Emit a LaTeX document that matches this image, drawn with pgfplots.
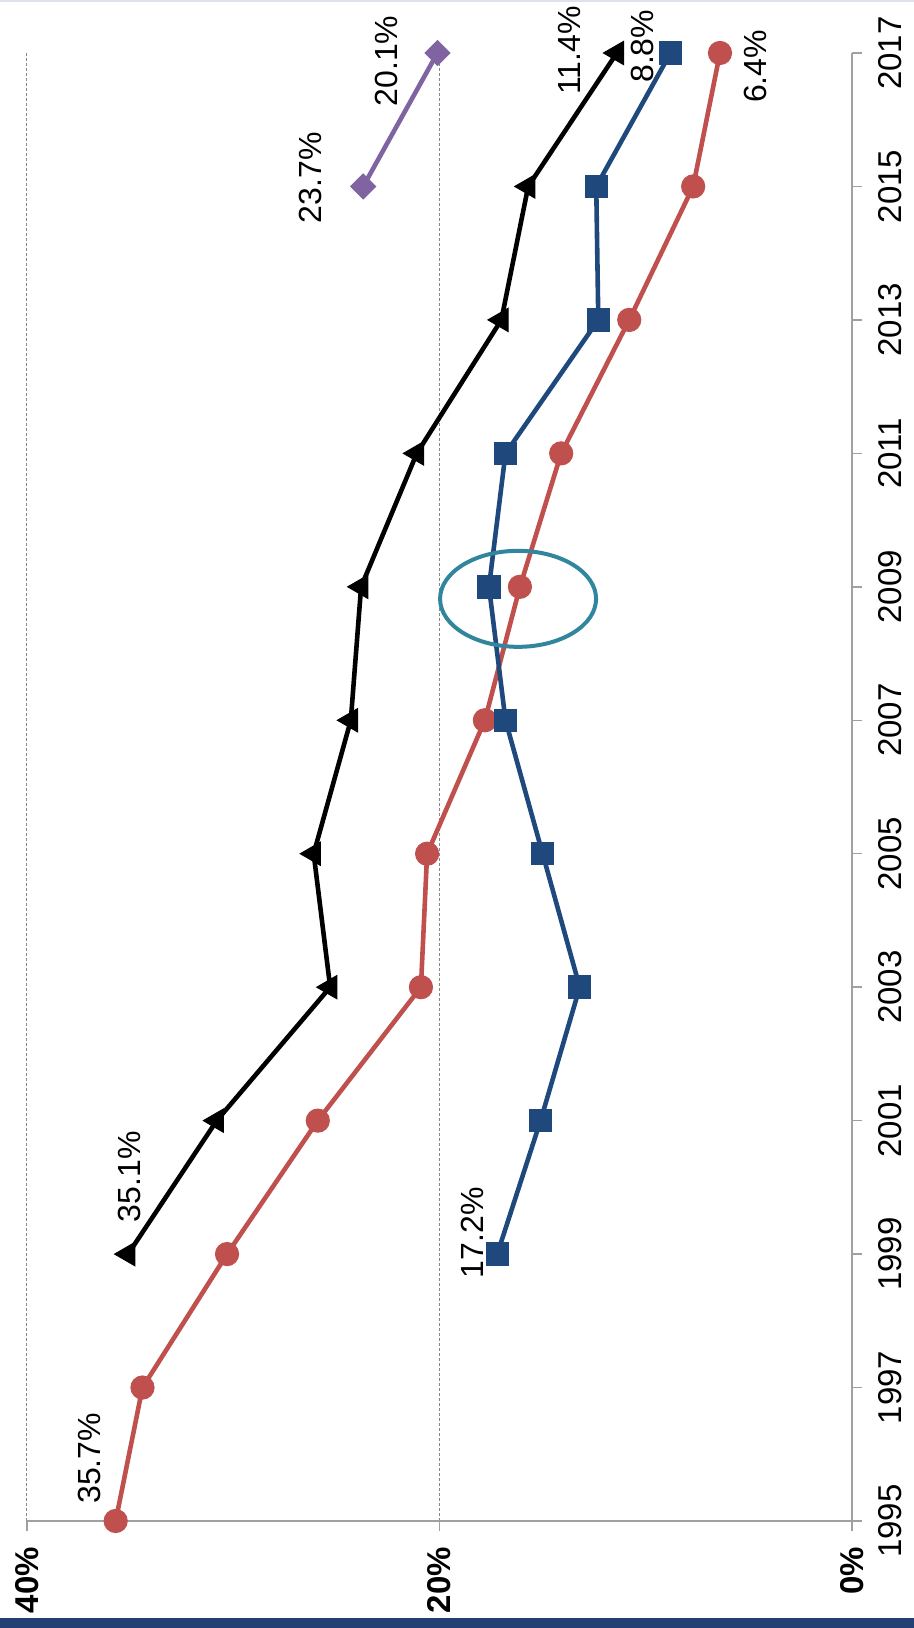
\documentclass[border=0pt]{standalone}
\usepackage{fontspec}
\setmainfont{Liberation Sans}
\usepackage{pgfplots}
\pgfplotsset{compat=1.18}
\definecolor{cred}{RGB}{192,80,77}
\definecolor{cblue}{RGB}{31,73,125}
\definecolor{cpurple}{RGB}{128,100,162}
\definecolor{cteal}{RGB}{49,133,156}
\definecolor{cgrid}{RGB}{134,134,134}
\definecolor{caxis}{RGB}{160,160,160}
\definecolor{cbar}{RGB}{35,64,115}
\begin{document}
\begin{tikzpicture}
\begin{axis}[
  scale only axis, width=412.5pt, height=734pt,
  xmin=0, xmax=40, x dir=reverse,
  ymin=1995, ymax=2017,
  enlargelimits=false, clip=false,
  axis x line*=bottom, axis y line*=right,
  axis line style={caxis, line width=0.7pt},
  xtick={0,20,40}, xticklabels={0\%,20\%,40\%},
  ytick={1995,1997,...,2017},
  yticklabels={1995,1997,1999,2001,2003,2005,2007,2009,2011,2013,2015,2017},
  tick align=outside, major tick length=5pt,
  tick style={caxis, line width=0.7pt},
  xmajorgrids, grid style={cgrid, line width=0.5pt, dash pattern=on 1.5pt off 1pt},
  xticklabel style={rotate=90, anchor=east, font=\bfseries\fontsize{16.5}{16.5}\selectfont},
  yticklabel style={rotate=90, anchor=north, font=\fontsize{16.5}{16.5}\selectfont},
  xticklabel shift=4.5pt, yticklabel shift=4.7pt,
  /pgf/number format/assume math mode=true,
  every axis plot/.append style={line width=2.3pt},
]
\addplot[cred, mark=*, mark size=5.8pt, mark options={solid, line width=0.5pt}] coordinates {
(35.7,1995) (34.4,1997) (30.3,1999) (25.9,2001) (20.9,2003) (20.6,2005)
(17.8,2007) (16.1,2009) (14.1,2011) (10.8,2013) (7.7,2015) (6.4,2017)};
\addplot[black, mark=triangle*, mark size=6.7pt, mark options={solid, rotate=90, line width=0.5pt}] coordinates {
(35.1,1999) (30.8,2001) (25.3,2003) (26.1,2005) (24.3,2007) (23.8,2009)
(21.1,2011) (17.0,2013) (15.7,2015) (11.4,2017)};
\addplot[cblue, mark=square*, mark size=5.6pt, mark options={solid, line width=0.5pt}] coordinates {
(17.2,1999) (15.1,2001) (13.2,2003) (15.0,2005) (16.8,2007) (17.6,2009)
(16.8,2011) (12.3,2013) (12.4,2015) (8.8,2017)};
\addplot[cpurple, mark=square*, mark size=4.4pt, mark options={solid, rotate=45, line width=0.5pt}] coordinates {
(23.7,2015) (20.1,2017)};
\draw[cteal, line width=2pt] (axis cs:16.19,2008.82) ellipse [x radius=39pt, y radius=24pt];
\begin{scope}[every node/.style={rotate=90, font=\fontsize{16}{16}\selectfont, inner sep=0pt}]
\node at (axis cs:36.97,1995.94) {35.7\%};
\node at (axis cs:35.03,2000.16) {35.1\%};
\node at (axis cs:18.4,1999.32) {17.2\%};
\node at (axis cs:26.25,2015.13) {23.7\%};
\node at (axis cs:22.59,2016.88) {20.1\%};
\node at (axis cs:13.72,2017.04) {11.4\%};
\node at (axis cs:10.18,2017.10) {8.8\%};
\node at (axis cs:4.70,2016.80) {6.4\%};
\end{scope}
\end{axis}
\coordinate (BL) at ([shift={(-13.5pt,-53.5pt)}]current axis.south west);
\coordinate (TR) at ([shift={(31pt,26.5pt)}]current axis.north east);
\fill[cbar] (BL) rectangle ([shift={(31pt,-48.5pt)}]current axis.south east);
\fill[cbar!15] ([shift={(-13.5pt,26.5pt)}]current axis.north west) rectangle ([shift={(0pt,-0.8pt)}]TR);
\pgfresetboundingbox
\path (BL) rectangle (TR);
\end{tikzpicture}
\end{document}
